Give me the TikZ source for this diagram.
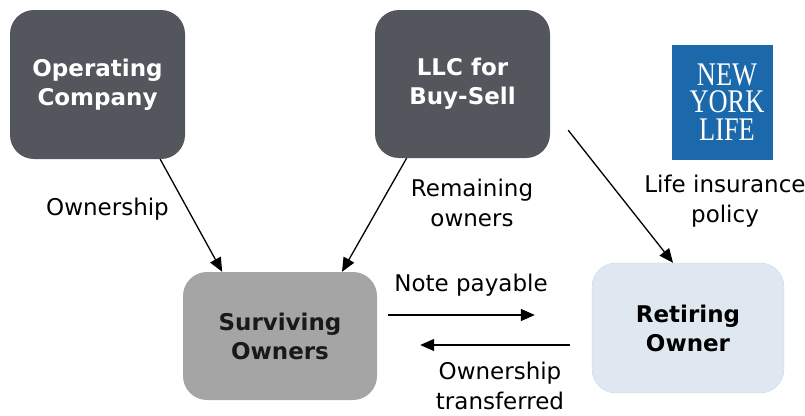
\documentclass[tikz,border=0pt]{standalone}
\usepackage{fontspec}
\setmainfont{DejaVu Sans}
\newfontfamily\logofont{Liberation Serif}
\usetikzlibrary{arrows.meta}
\definecolor{darkbox}{RGB}{83,86,92}
\definecolor{graybox}{RGB}{165,165,165}
\definecolor{lightbox}{RGB}{223,232,241}
\definecolor{nyblue}{RGB}{27,105,170}
\begin{document}
\begin{tikzpicture}[x=1pt,y=-1pt,
  box/.style={rectangle, rounded corners=24pt, align=center, inner sep=0pt,
    font=\fontsize{23}{29}\selectfont\bfseries},
  lbl/.style={align=center, inner sep=0pt, font=\fontsize{23}{30}\selectfont},
  logotxt/.style={inner sep=0pt, align=center, text=white, xscale=0.8,
    font=\fontsize{33}{27.5}\selectfont\logofont},
  arr/.style={line width=1.3pt, -{Triangle[length=14pt,width=12pt]}}]
\useasboundingbox (0,0) rectangle (805,415);
% boxes
\node[box, fill=darkbox, text=white, minimum width=175pt, minimum height=149pt] (oc) at (97.5,84.5) {Operating\\Company};
\node[box, fill=darkbox, text=white, minimum width=175pt, minimum height=148pt] (llc) at (462.5,84) {LLC for\\Buy-Sell};
\node[box, fill=graybox, text=black!90, minimum width=194pt, minimum height=128pt] (sv) at (280,336) {Surviving\\Owners};
\node[box, fill=lightbox, draw=lightbox!80!gray, line width=0.4pt, text=black, minimum width=192pt, minimum height=130pt] (ro) at (688,328) {Retiring\\Owner};
% logo
\node[rectangle, fill=nyblue, minimum width=101pt, minimum height=115pt, inner sep=0pt] (logo) at (722.5,102.5) {};
\node[logotxt, anchor=base] (ltext) at (727,140) {NEW\\YORK\\LIFE};
% labels
\node[lbl] (l1) at (107.5,209) {Ownership};
\node[lbl] (l2) at (472,203) {Remaining\\owners};
\node[lbl] (l3) at (725,201) {Life insurance\\policy};
\node[lbl] (l4) at (471,285) {Note payable};
\node[lbl] (l5) at (500,386) {Ownership\\transferred};
% connectors
\draw[arr] (oc.-50) -- (sv.132);
\draw[arr] (llc.-127.5) -- (sv.46);
\draw[arr] ([shift={(18,-28)}]llc.south east) -- ([xshift=-15pt]ro.north);
\draw[arr] ([shift={(11,-21)}]sv.east) -- ([shift={(-57,-13)}]ro.west);
\draw[arr] ([shift={(-22,17)}]ro.west) -- ([shift={(43,9)}]sv.east);
\end{tikzpicture}
\end{document}
